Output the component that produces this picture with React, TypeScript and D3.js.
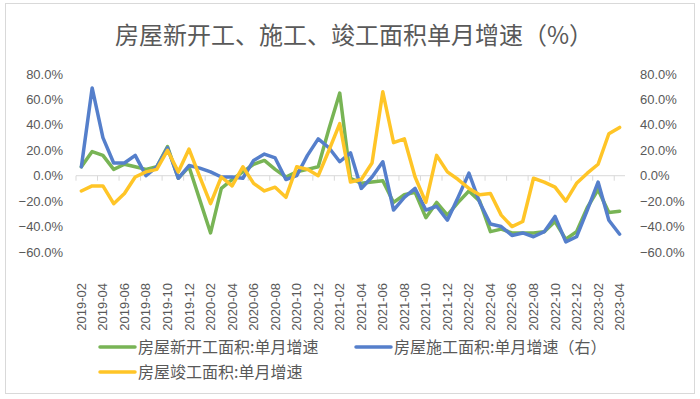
import { useRef, useEffect } from 'react';
import * as d3 from 'd3';

// monthly categories 2019-02 .. 2023-04
const months = [
  '2019-02', '2019-03', '2019-04', '2019-05', '2019-06', '2019-07', '2019-08', '2019-09', '2019-10', '2019-11', '2019-12',
  '2020-01', '2020-02', '2020-03', '2020-04', '2020-05', '2020-06', '2020-07', '2020-08', '2020-09', '2020-10', '2020-11', '2020-12',
  '2021-01', '2021-02', '2021-03', '2021-04', '2021-05', '2021-06', '2021-07', '2021-08', '2021-09', '2021-10', '2021-11', '2021-12',
  '2022-01', '2022-02', '2022-03', '2022-04', '2022-05', '2022-06', '2022-07', '2022-08', '2022-09', '2022-10', '2022-11', '2022-12',
  '2023-01', '2023-02', '2023-03', '2023-04',
];

// 房屋新开工面积:单月增速 (%)
const newStarts = [
  7, 19, 16, 5, 9, 7, 5, 7, 23, -2, 7,
  -19, -45, -10, -3, 3, 9, 12, 5, -1, 3, 5, 7,
  37, 65, -2, -6, -5, -4, -21, -15, -13, -33, -21, -31,
  -21, -12, -20, -44, -42, -45, -45, -45, -44, -36, -50, -44,
  -25, -11, -29, -28,
];

// 房屋施工面积:单月增速（右）(%)
const underConstruction = [
  7, 69, 30, 10, 10, 16, 0, 7, 22, -2, 8,
  6, 3, -1, -1, -2, 12, 17, 14, -3, 0, 16, 29,
  22, 11, 18, -10, -1, 11, -27, -17, -10, -27, -24, -35,
  -17, 2, -21, -38, -40, -47, -45, -48, -44, -32, -52, -48,
  -27, -5, -35, -46,
];

// 房屋竣工面积:单月增速 (%)
const completions = [
  -12, -8, -8, -22, -14, -1, 3, 5, 20, 3, 21,
  -1, -22, -1, -8, 7, -6, -12, -9, -17, 7, 5, 0,
  20, 41, -5, -3, 10, 66, 26, 29, -1, -21, 16, 3,
  -3, -10, -15, -14, -31, -40, -36, -2, -5, -9, -20, -6,
  2, 9, 33, 38,
];

const yTicks = [80, 60, 40, 20, 0, -20, -40, -60];

const series = [
  { name: '房屋新开工面积:单月增速', values: newStarts, color: '#78B455' },
  { name: '房屋施工面积:单月增速（右）', values: underConstruction, color: '#557FCB' },
  { name: '房屋竣工面积:单月增速', values: completions, color: '#FFC527' },
];

const W = 700;
const H = 399;
const TEXT = '#595959';
const CJK = '"Noto Sans CJK SC", "Noto Sans", sans-serif';
const NUM = '"Liberation Sans", Arial, sans-serif';

export default function App() {
  const svgRef = useRef<SVGSVGElement>(null);

  useEffect(() => {
    if (!svgRef.current) return;
    const svg = d3.select(svgRef.current);
    svg.selectAll('*').remove();

    // plot area
    const left = 76;
    const right = 625;
    const top = 74;
    const bottom = 252;

    const x = d3.scaleBand<string>().domain(months).range([left, right]).padding(0);
    const cx = (m: string) => (x(m) || 0) + x.bandwidth() / 2;
    const y = d3.scaleLinear().domain([-60, 80]).range([bottom, top]);
    const yRight = d3.scaleLinear().domain([-60, 80]).range([bottom, top]);

    // chart frame
    svg.append('rect')
      .attr('x', 5.5).attr('y', 3.5)
      .attr('width', 689).attr('height', 390)
      .attr('fill', '#fff')
      .attr('stroke', '#d9d9d9');

    // title
    svg.append('text')
      .attr('x', 354).attr('y', 44)
      .attr('text-anchor', 'middle')
      .style('font-family', CJK)
      .style('font-size', '24px')
      .style('fill', TEXT)
      .text('房屋新开工、施工、竣工面积单月增速（%）');

    // left axis labels
    svg.append('g')
      .selectAll('text')
      .data(yTicks)
      .enter()
      .append('text')
      .attr('x', 63)
      .attr('y', d => y(d) + 4.5)
      .attr('text-anchor', 'end')
      .style('font-family', NUM)
      .style('font-size', '13px')
      .style('fill', TEXT)
      .text(d => d3.format('.1f')(d) + '%');

    // right axis labels
    svg.append('g')
      .selectAll('text')
      .data(yTicks)
      .enter()
      .append('text')
      .attr('x', 640)
      .attr('y', d => yRight(d) + 4.5)
      .attr('text-anchor', 'start')
      .style('font-family', NUM)
      .style('font-size', '13px')
      .style('fill', TEXT)
      .text(d => d3.format('.1f')(d) + '%');

    // category axis at zero
    const x0 = y(0);
    svg.append('line')
      .attr('x1', left).attr('x2', right)
      .attr('y1', x0).attr('y2', x0)
      .attr('stroke', '#d9d9d9')
      .attr('stroke-width', 1);

    const tickIdx = d3.range(0, months.length + 1, 2);
    svg.append('g')
      .selectAll('line')
      .data(tickIdx)
      .enter()
      .append('line')
      .attr('x1', i => left + i * x.bandwidth())
      .attr('x2', i => left + i * x.bandwidth())
      .attr('y1', x0).attr('y2', x0 + 5)
      .attr('stroke', '#d9d9d9');

    // category labels, every second month, rotated
    svg.append('g')
      .selectAll('text')
      .data(months.filter((_, i) => i % 2 === 0))
      .enter()
      .append('text')
      .attr('transform', d => `translate(${cx(d) + 4.5},283) rotate(-90)`)
      .attr('text-anchor', 'end')
      .style('font-family', NUM)
      .style('font-size', '13px')
      .style('fill', TEXT)
      .text(d => d);

    // lines
    const line = d3.line<number>()
      .x((_, i) => cx(months[i]))
      .y(d => y(d));

    series.forEach(s => {
      svg.append('path')
        .datum(s.values)
        .attr('fill', 'none')
        .attr('stroke', s.color)
        .attr('stroke-width', 3.5)
        .attr('stroke-linejoin', 'round')
        .attr('stroke-linecap', 'round')
        .attr('d', line);
    });

    // legend
    const legendPos = [
      { x: 100, y: 347 },
      { x: 356, y: 347 },
      { x: 100, y: 372 },
    ];
    series.forEach((s, i) => {
      const p = legendPos[i];
      svg.append('line')
        .attr('x1', p.x).attr('x2', p.x + 35)
        .attr('y1', p.y).attr('y2', p.y)
        .attr('stroke', s.color)
        .attr('stroke-width', 3.5)
        .attr('stroke-linecap', 'round');
      svg.append('text')
        .attr('x', p.x + 38)
        .attr('y', p.y + 5.5)
        .style('font-family', CJK)
        .style('font-size', '16px')
        .style('fill', TEXT)
        .text(s.name);
    });
  }, []);

  return (
    <svg
      ref={svgRef}
      width={W}
      height={H}
      style={{ position: 'absolute', left: 0, top: 0, background: '#fff' }}
    />
  );
}
